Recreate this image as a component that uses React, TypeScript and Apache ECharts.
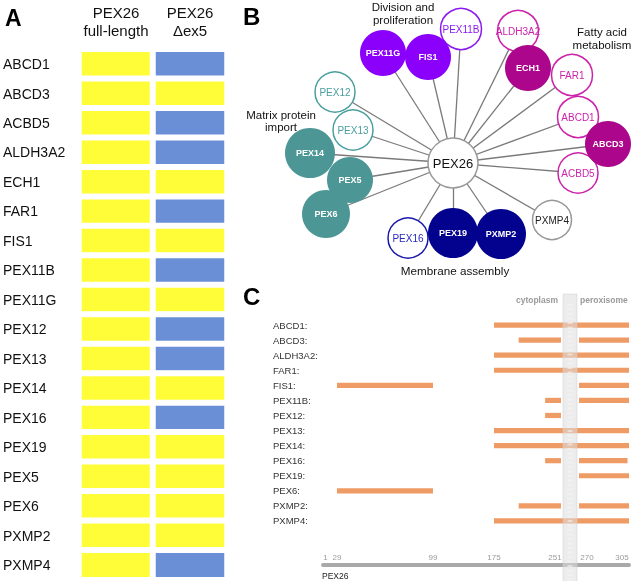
import React, { useEffect, useRef } from 'react';
import * as echarts from 'echarts';

// ---------- Panel A data ----------
const aGenes = ['ABCD1', 'ABCD3', 'ACBD5', 'ALDH3A2', 'ECH1', 'FAR1', 'FIS1', 'PEX11B', 'PEX11G', 'PEX12', 'PEX13', 'PEX14', 'PEX16', 'PEX19', 'PEX5', 'PEX6', 'PXMP2', 'PXMP4'];
const aColumns = ['PEX26\nfull-length', 'PEX26\nΔex5'];
const fullLengthInteraction = [1, 1, 1, 1, 1, 1, 1, 1, 1, 1, 1, 1, 1, 1, 1, 1, 1, 1];
const delta5Interaction = [0, 1, 0, 0, 1, 0, 1, 0, 1, 0, 0, 1, 0, 1, 1, 1, 1, 0];

// ---------- Panel B data ----------
const hubName = 'PEX26';
const networkGenes = ['PEX11G', 'FIS1', 'PEX11B', 'ALDH3A2', 'ECH1', 'FAR1', 'ABCD1', 'ABCD3', 'ACBD5', 'PXMP4', 'PXMP2', 'PEX19', 'PEX16', 'PEX6', 'PEX5', 'PEX14', 'PEX13', 'PEX12'];
const networkGroups = ['division', 'division', 'division', 'fatty', 'fatty', 'fatty', 'fatty', 'fatty', 'fatty', 'other', 'membrane', 'membrane', 'membrane', 'matrix', 'matrix', 'matrix', 'matrix', 'matrix'];
const groupTitles = ['Division and\nproliferation', 'Fatty acid\nmetabolism', 'Matrix protein\nimport', 'Membrane assembly'];

// ---------- Panel C data ----------
const cProteins = ['ABCD1', 'ABCD3', 'ALDH3A2', 'FAR1', 'FIS1', 'PEX11B', 'PEX12', 'PEX13', 'PEX14', 'PEX16', 'PEX19', 'PEX6', 'PXMP2', 'PXMP4'];
const cSegments: number[][][] = [
  [[175, 305]],
  [[203, 251], [270, 305]],
  [[175, 305]],
  [[175, 305]],
  [[29, 99], [270, 305]],
  [[233, 251], [270, 305]],
  [[233, 251]],
  [[175, 305]],
  [[175, 305]],
  [[233, 251], [270, 304]],
  [[270, 305]],
  [[29, 99]],
  [[203, 251], [270, 305]],
  [[175, 305]],
];
const residueTicks = [1, 29, 99, 175, 251, 270, 305];

// ---------- layout / style (not data) ----------
// schematic (non-linear) residue scale: display units for each tick residue
const residueDisplay = [0, 14, 110, 171, 238, 256, 306];
const nodeLayout: Record<string, [number, number, number]> = {
  PEX26: [453, 163, 50],
  PEX11G: [383, 53, 46],
  FIS1: [428, 57, 46],
  PEX11B: [461, 29, 41],
  ALDH3A2: [518, 31, 41],
  ECH1: [528, 68, 46],
  FAR1: [572, 75, 41],
  ABCD1: [578, 117, 41],
  ABCD3: [608, 144, 46],
  ACBD5: [578, 173, 40],
  PXMP4: [552, 220, 39],
  PXMP2: [501, 234, 50],
  PEX19: [453, 233, 50],
  PEX16: [408, 238, 40],
  PEX6: [326, 214, 48],
  PEX5: [350, 180, 46],
  PEX14: [310, 153, 50],
  PEX13: [353, 130, 40],
  PEX12: [335, 92, 40],
};
const groupColors: Record<string, { fill: string; line: string; text: string }> = {
  division: { fill: '#8A00FA', line: '#8A1AF0', text: '#8A1AF0' },
  fatty: { fill: '#AC068C', line: '#CC22AA', text: '#CC22AA' },
  membrane: { fill: '#02028E', line: '#1818AA', text: '#2828BB' },
  matrix: { fill: '#4D9696', line: '#4A9E9E', text: '#4A9E9E' },
  other: { fill: '#999999', line: '#999999', text: '#222222' },
};

const FONT = '"Liberation Sans", Arial, Helvetica, sans-serif';

function toDisplay(r: number): number {
  for (let i = 0; i < residueTicks.length - 1; i++) {
    const a = residueTicks[i];
    const b = residueTicks[i + 1];
    if (r >= a && r <= b) {
      return residueDisplay[i] + ((r - a) / (b - a)) * (residueDisplay[i + 1] - residueDisplay[i]);
    }
  }
  return r < residueTicks[0] ? residueDisplay[0] : residueDisplay[residueDisplay.length - 1];
}

export default function App() {
  const ref = useRef<HTMLDivElement>(null);
  useEffect(() => {
    if (!ref.current) return;
    const chart = echarts.init(ref.current, undefined, { renderer: 'svg' });

    // heatmap data
    const heat: number[][] = [];
    aGenes.forEach((g, i) => {
      heat.push([0, i, fullLengthInteraction[i]]);
      heat.push([1, i, delta5Interaction[i]]);
    });

    // network
    const filledSet = new Set(aGenes.filter((g, i) => delta5Interaction[i] === 1));
    const nodesRaw = [hubName, ...networkGenes].map((name) => {
      const gi = networkGenes.indexOf(name);
      const group = gi >= 0 ? networkGroups[gi] : 'hub';
      const filled = filledSet.has(name) && name !== hubName;
      const pos = nodeLayout[name];
      const col = group === 'hub' ? { fill: '#fff', line: '#999', text: '#111' } : groupColors[group];
      return {
        name,
        x: pos[0],
        y: pos[1],
        symbolSize: pos[2],
        filled,
        itemStyle: filled
          ? { color: col.fill, borderWidth: 0 }
          : { color: '#ffffff', borderColor: col.line, borderWidth: 1.5 },
        label: filled
          ? { color: '#ffffff', fontSize: 9, fontWeight: 'bold' }
          : { color: col.text, fontSize: name === hubName ? 13 : 10, fontWeight: 'normal' },
      };
    });
    const nodes = [...nodesRaw.filter((n) => !n.filled), ...nodesRaw.filter((n) => n.filled)].map(({ filled, ...rest }) => rest);
    const xs = nodes.map((n) => n.x);
    const ys = nodes.map((n) => n.y);
    const minX = Math.min(...xs), maxX = Math.max(...xs), minY = Math.min(...ys), maxY = Math.max(...ys);
    const links = networkGenes.map((g) => ({ source: hubName, target: g }));

    // panel C segments
    const segData: number[][] = [];
    cSegments.forEach((segs, row) => {
      segs.forEach((s) => segData.push([toDisplay(s[0]), toDisplay(s[1]), row]));
    });

    const tickDisp = residueTicks.map(toDisplay);
    const richKey: Record<number, string> = { 1: 'l1', 251: 'r12', 270: 'l16', 305: 'r14' };
    const baseRich = { fontSize: 8, color: '#9a9a9a', fontFamily: FONT };

    const option: any = {
      animation: false,
      textStyle: { fontFamily: FONT },
      grid: [
        { left: 79, top: 49.3, width: 148, height: 530.4 },
        { left: 323, top: 317.5, width: 306, height: 211 },
      ],
      xAxis: [
        {
          type: 'category',
          gridIndex: 0,
          data: aColumns,
          position: 'top',
          axisLine: { show: false },
          axisTick: { show: false },
          splitLine: { show: false },
          axisLabel: { interval: 0, fontSize: 15, lineHeight: 18, color: '#111', margin: 10 },
        },
        {
          type: 'value',
          gridIndex: 1,
          min: 0,
          max: 306,
          position: 'bottom',
          offset: 36.5,
          axisLine: { show: true, onZero: false, lineStyle: { color: '#a9a9a9', width: 4 } },
          axisTick: { show: false },
          splitLine: { show: false },
          axisLabel: {
            inside: true,
            margin: 4,
            customValues: tickDisp,
            fontSize: 8,
            color: '#9a9a9a',
            formatter: (v: number) => {
              let idx = 0;
              let best = Infinity;
              tickDisp.forEach((d, i) => {
                if (Math.abs(d - v) < best) {
                  best = Math.abs(d - v);
                  idx = i;
                }
              });
              const r = residueTicks[idx];
              const k = richKey[r] || 'c';
              return '{' + k + '|' + r + '}';
            },
            rich: {
              c: { ...baseRich },
              l1: { ...baseRich, padding: [0, 0, 0, 5] },
              r12: { ...baseRich, padding: [0, 12, 0, 0] },
              l16: { ...baseRich, padding: [0, 0, 0, 16] },
              r14: { ...baseRich, padding: [0, 14, 0, 0] },
            },
          },
        },
      ],
      yAxis: [
        {
          type: 'category',
          gridIndex: 0,
          data: aGenes,
          inverse: true,
          axisLine: { show: false },
          axisTick: { show: false },
          splitLine: { show: false },
          axisLabel: { align: 'left', margin: 76, fontSize: 14, color: '#111', padding: [4, 0, 0, 0] },
        },
        {
          type: 'category',
          gridIndex: 1,
          data: cProteins.map((p) => p + ':'),
          inverse: true,
          axisLine: { show: false },
          axisTick: { show: false },
          splitLine: { show: false },
          axisLabel: { interval: 0, align: 'left', margin: 50, fontSize: 9.5, color: '#333', padding: [8, 0, 0, 0] },
        },
      ],
      visualMap: {
        type: 'piecewise',
        show: false,
        seriesIndex: 0,
        dimension: 2,
        pieces: [
          { value: 1, color: '#FFFC38' },
          { value: 0, color: '#6B8FD6' },
        ],
      },
      series: [
        {
          type: 'heatmap',
          xAxisIndex: 0,
          yAxisIndex: 0,
          data: heat,
          itemStyle: { borderColor: '#ffffff', borderWidth: 6 },
          emphasis: { disabled: true },
          silent: true,
        },
        {
          type: 'graph',
          layout: 'none',
          left: minX,
          top: minY,
          width: maxX - minX,
          height: maxY - minY,
          roam: false,
          silent: true,
          data: nodes,
          links,
          symbol: 'circle',
          edgeSymbol: ['none', 'none'],
          lineStyle: { color: '#7a7a7a', width: 1.3, opacity: 1, curveness: 0 },
          label: { show: true, position: 'inside', fontFamily: FONT },
          emphasis: { disabled: true },
          z: 3,
        },
        {
          type: 'custom',
          xAxisIndex: 1,
          yAxisIndex: 1,
          data: segData,
          encode: { x: [0, 1], y: 2 },
          silent: true,
          renderItem: (params: any, api: any) => {
            const row = api.value(2);
            const a = api.coord([api.value(0), row]);
            const b = api.coord([api.value(1), row]);
            return {
              type: 'rect',
              shape: { x: a[0], y: a[1] - 2.6, width: b[0] - a[0], height: 5.2 },
              style: { fill: '#EF9B66' },
            };
          },
          z: 2,
        },
      ],
      graphic: [
        { type: 'text', x: 5, y: 18, z: 100, style: { text: 'A', fontSize: 23, fontWeight: 'bold', fontFamily: FONT, fill: '#000', verticalAlign: 'middle', textVerticalAlign: 'middle' } },
        { type: 'text', x: 243, y: 16, z: 100, style: { text: 'B', fontSize: 24, fontWeight: 'bold', fontFamily: FONT, fill: '#000', verticalAlign: 'middle', textVerticalAlign: 'middle' } },
        { type: 'text', x: 243, y: 296, z: 100, style: { text: 'C', fontSize: 24, fontWeight: 'bold', fontFamily: FONT, fill: '#000', verticalAlign: 'middle', textVerticalAlign: 'middle' } },
        { type: 'text', x: 403, y: 13.5, z: 100, style: { text: groupTitles[0], fontSize: 11.5, lineHeight: 13, fontFamily: FONT, fill: '#111', align: 'center', textAlign: 'center', verticalAlign: 'middle', textVerticalAlign: 'middle' } },
        { type: 'text', x: 602, y: 38.5, z: 100, style: { text: groupTitles[1], fontSize: 11.5, lineHeight: 13, fontFamily: FONT, fill: '#111', align: 'center', textAlign: 'center', verticalAlign: 'middle', textVerticalAlign: 'middle' } },
        { type: 'text', x: 281, y: 121, z: 100, style: { text: groupTitles[2], fontSize: 11.5, lineHeight: 12.5, fontFamily: FONT, fill: '#111', align: 'center', textAlign: 'center', verticalAlign: 'middle', textVerticalAlign: 'middle' } },
        { type: 'text', x: 455, y: 270, z: 100, style: { text: groupTitles[3], fontSize: 11.7, fontFamily: FONT, fill: '#111', align: 'center', textAlign: 'center', verticalAlign: 'middle', textVerticalAlign: 'middle' } },
        { type: 'text', x: 558, y: 300, z: 100, style: { text: 'cytoplasm', fontSize: 8.5, fontWeight: 'bold', fontFamily: FONT, fill: '#9a9a9a', align: 'right', textAlign: 'right', verticalAlign: 'middle', textVerticalAlign: 'middle' } },
        { type: 'text', x: 580, y: 300, z: 100, style: { text: 'peroxisome', fontSize: 8.5, fontWeight: 'bold', fontFamily: FONT, fill: '#9a9a9a', align: 'left', textAlign: 'left', verticalAlign: 'middle', textVerticalAlign: 'middle' } },
        { type: 'text', x: 322, y: 576, z: 100, style: { text: 'PEX26', fontSize: 8.5, fontFamily: FONT, fill: '#222', verticalAlign: 'middle', textVerticalAlign: 'middle' } },
        { type: 'rect', z: 100, shape: { x: 563, y: 294, width: 14, height: 290 }, style: { fill: 'rgba(220,220,220,0.55)', stroke: 'rgba(205,205,205,0.7)', lineWidth: 0.7 } },
        { type: 'line', z: 101, shape: { x1: 570, y1: 304, x2: 570, y2: 581 }, style: { stroke: 'rgba(245,245,245,0.55)', lineWidth: 5, lineDash: [2, 2.5] } },
      ],
    };
    chart.setOption(option);
    return () => chart.dispose();
  }, []);
  return <div ref={ref} style={{ position: 'fixed', left: 0, top: 0, width: 634, height: 581 }} />;
}
